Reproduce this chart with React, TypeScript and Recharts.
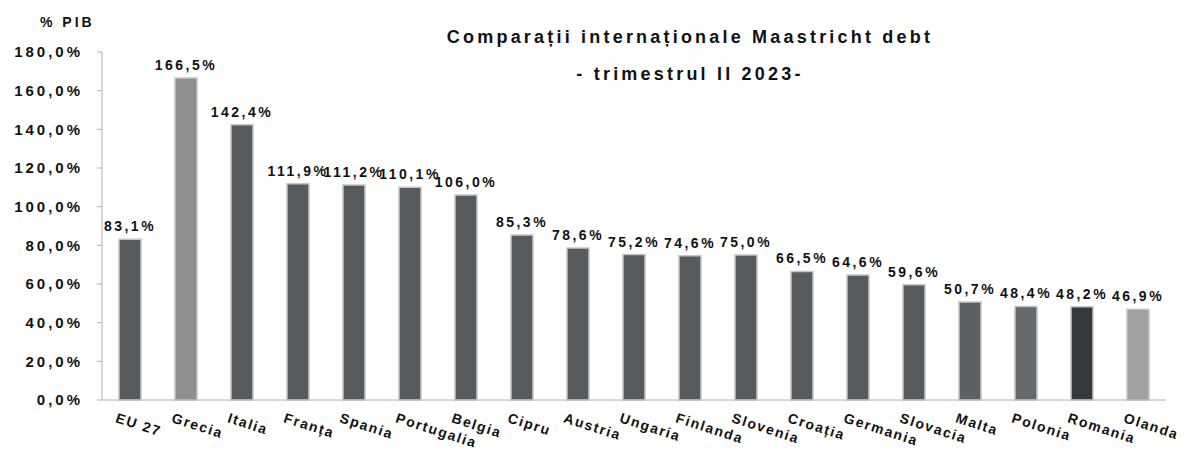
import React from "react";
import { BarChart, Bar, XAxis, YAxis, Cell, LabelList } from "recharts";

const countries = ["EU 27", "Grecia", "Italia", "Franța", "Spania", "Portugalia", "Belgia", "Cipru", "Austria", "Ungaria", "Finlanda", "Slovenia", "Croația", "Germania", "Slovacia", "Malta", "Polonia", "Romania", "Olanda"];
const debtValues = [83.1, 166.5, 142.4, 111.9, 111.2, 110.1, 106.0, 85.3, 78.6, 75.2, 74.6, 75.0, 66.5, 64.6, 59.6, 50.7, 48.4, 48.2, 46.9];
const barColors = ["#575b5e", "#8e9092", "#575b5e", "#575b5e", "#575b5e", "#575b5e", "#575b5e", "#575b5e", "#575b5e", "#575b5e", "#575b5e", "#575b5e", "#575b5e", "#575b5e", "#575b5e", "#5c6063", "#65696c", "#36393b", "#9fa1a3"];
const yTicks = [0, 20, 40, 60, 80, 100, 120, 140, 160, 180];

const data = countries.map((c, i) => ({ name: c, value: debtValues[i] }));

const fmt = (v: number) => v.toFixed(1).replace(".", ",") + "%";
const FONT = "'Liberation Sans', Arial, sans-serif";

const XTick = (props: any) => {
  const { x, y, payload } = props;
  return (
    <g transform={`translate(${x - 12},${y + 4})`}>
      <text
        transform="rotate(18)"
        textAnchor="start"
        dominantBaseline="hanging"
        fontFamily={FONT}
        fontWeight="bold"
        fontSize={14}
        letterSpacing={1.6}
        fill="#111"
      >
        {payload.value}
      </text>
    </g>
  );
};

export default function App() {
  return (
    <div style={{ position: "relative", width: 1176, height: 447, fontFamily: FONT, background: "#fff" }}>
      <div style={{ position: "absolute", left: 32, top: 6, fontSize: 14, fontWeight: "bold", letterSpacing: 3, color: "#111" }}>% PIB</div>
      <div style={{ position: "absolute", left: 682, top: 19, transform: "translateX(-50%)", whiteSpace: "nowrap", fontSize: 18, fontWeight: "bold", letterSpacing: 3.2, color: "#111" }}>
        Comparații internaționale Maastricht debt
      </div>
      <div style={{ position: "absolute", left: 682, top: 56, transform: "translateX(-50%)", whiteSpace: "nowrap", fontSize: 18, fontWeight: "bold", letterSpacing: 3.2, color: "#111" }}>
        - trimestrul II 2023-
      </div>
      <BarChart width={1176} height={447} data={data} margin={{ top: 44, right: 18, bottom: 5, left: 0 }} barSize={22}>
        <XAxis
          dataKey="name"
          interval={0}
          height={50}
          tick={<XTick />}
          tickLine={false}
          axisLine={{ stroke: "#b0b0b0" }}
        />
        <YAxis
          width={94}
          domain={[0, 180]}
          ticks={yTicks}
          tickFormatter={fmt}
          tickSize={5}
          tickMargin={14}
          tickLine={{ stroke: "#b0b0b0" }}
          axisLine={{ stroke: "#b0b0b0" }}
          tick={{ fontFamily: FONT, fontWeight: "bold", fontSize: 15, letterSpacing: 3, fill: "#111" }}
        />
        <Bar dataKey="value" isAnimationActive={false} stroke="#c4c6c8" strokeWidth={1.5}>
          {data.map((d, i) => (
            <Cell key={d.name} fill={barColors[i]} />
          ))}
          <LabelList
            dataKey="value"
            position="top"
            offset={8}
            formatter={(v: any) => fmt(Number(v))}
            style={{ fontFamily: FONT, fontWeight: "bold", fontSize: 14, letterSpacing: 2.5, fill: "#111" }}
          />
        </Bar>
      </BarChart>
    </div>
  );
}
